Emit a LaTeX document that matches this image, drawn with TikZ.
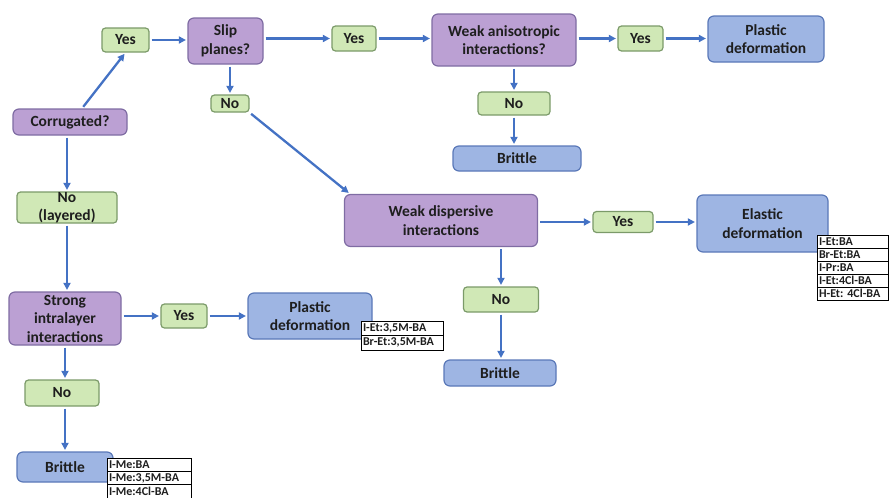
\documentclass[tikz,border=0pt]{standalone}
\usepackage{fontspec}
\setmainfont{Carlito}
\usetikzlibrary{positioning, arrows.meta, calc}

\definecolor{qfill}{HTML}{BBA0D3}
\definecolor{qline}{HTML}{7F6CA3}
\definecolor{afill}{HTML}{D0E8B6}
\definecolor{aline}{HTML}{7B9A69}
\definecolor{rfill}{HTML}{9EB5E3}
\definecolor{rline}{HTML}{5A78B8}
\definecolor{flow}{HTML}{4472C4}
\definecolor{ink}{HTML}{1E1E1E}

\tikzset{
  box/.style={rounded corners=6pt, line width=1.2pt, align=center, inner sep=0pt,
    font=\fontsize{15.5}{18.5}\selectfont\bfseries, text=ink},
  question/.style={box, fill=qfill, draw=qline},
  answer/.style={box, fill=afill, draw=aline, rounded corners=3.5pt},
  result/.style={box, fill=rfill, draw=rline},
  cell/.style={draw=black, fill=white, line width=0.8pt, inner sep=0pt, inner xsep=2pt,
    outer sep=0pt, align=left, font=\fontsize{12}{13}\selectfont\bfseries\frenchspacing, text=ink},
  flowarrow/.style={draw=flow, line width=2.3pt, -{Triangle[length=7pt,width=7pt]},
    shorten <=2pt, shorten >=1.5pt},
}

\begin{document}
\begin{tikzpicture}[x=1pt, y=-1pt]
\useasboundingbox (0,0) rectangle (889,498);

% questions
\node[question, minimum width=114pt, minimum height=26pt] (corr) at (70,122) {Corrugated?};
\node[question, minimum width=75pt, minimum height=46pt] (slip) at (225.5,41) {Slip\\planes?};
\node[question, minimum width=144pt, minimum height=52pt] (aniso) at (504,40) {Weak anisotropic\\interactions?};
\node[question, minimum width=193pt, minimum height=52pt] (disp) at (441,220.5) {Weak dispersive\\interactions};
\node[question, minimum width=112pt, minimum height=53pt] (strong) at (65,318.5) {Strong\\intralayer\\interactions};

% answers
\node[answer, minimum width=47pt, minimum height=24pt] (yesA) at (125.5,40) {Yes};
\node[answer, minimum width=38pt, minimum height=17pt] (noA) at (230,103.5) {No};
\node[answer, minimum width=44pt, minimum height=25pt] (yesB) at (354,38.5) {Yes};
\node[answer, minimum width=45pt, minimum height=25pt] (yesC) at (640.5,38.5) {Yes};
\node[answer, minimum width=72pt, minimum height=23pt] (noB) at (514,103.5) {No};
\node[answer, minimum width=100pt, minimum height=31pt] (layer) at (67,207.5) {No\\(layered)};
\node[answer, minimum width=60pt, minimum height=21pt] (yesD) at (623,222) {Yes};
\node[answer, minimum width=75pt, minimum height=25pt] (noC) at (501,299.5) {No};
\node[answer, minimum width=46pt, minimum height=24pt] (yesE) at (184,316) {Yes};
\node[answer, minimum width=74pt, minimum height=26pt] (noD) at (62,393) {No};

% outcomes
\node[result, minimum width=116pt, minimum height=46pt] (plastA) at (766,39) {Plastic\\deformation};
\node[result, minimum width=128pt, minimum height=25pt] (britA) at (517,158.5) {Brittle};
\node[result, minimum width=131pt, minimum height=57pt] (elast) at (762.5,223.5) {Elastic\\deformation};
\node[result, minimum width=112pt, minimum height=26pt] (britB) at (500,373) {Brittle};
\node[result, minimum width=124pt, minimum height=46pt] (plastB) at (310,316) {Plastic\\deformation};
\node[result, minimum width=96pt, minimum height=30pt] (britC) at (65,467) {Brittle};

% compound lists
\node[cell, anchor=north west, text width=67pt, minimum height=13pt] (elast1) at (817,235) {I-Et:BA};
\node[cell, text width=67pt, minimum height=13pt, below=0pt of elast1] (elast2) {Br-Et:BA};
\node[cell, text width=67pt, minimum height=13pt, below=0pt of elast2] (elast3) {I-Pr:BA};
\node[cell, text width=67pt, minimum height=13pt, below=0pt of elast3] (elast4) {I-Et:4Cl-BA};
\node[cell, text width=67pt, minimum height=13pt, below=0pt of elast4] (elast5) {H-Et: 4Cl-BA};

\node[cell, anchor=north west, text width=78pt, minimum height=14.5pt] (plast1) at (361,321) {I-Et:3,5M-BA};
\node[cell, text width=78pt, minimum height=14.5pt, below=0pt of plast1] (plast2) {Br-Et:3,5M-BA};

\node[cell, anchor=north west, text width=80pt, minimum height=13.3pt] (brit1) at (107,458) {I-Me:BA};
\node[cell, text width=80pt, minimum height=13.3pt, below=0pt of brit1] (brit2) {I-Me:3,5M-BA};
\node[cell, text width=80pt, minimum height=13.3pt, below=0pt of brit2] (brit3) {I-Me:4Cl-BA};

% connectors
\draw[flowarrow] ([xshift=12pt]corr.north) -- (yesA.south);
\draw[flowarrow] (yesA.east) -- (yesA.east -| slip.west);
\draw[flowarrow] (noA.north |- slip.south) -- (noA.north);
\draw[flowarrow] (slip.east |- yesB) -- (yesB.west);
\draw[flowarrow] (yesB.east) -- (yesB.east -| aniso.west);
\draw[flowarrow] (aniso.east |- yesC) -- (yesC.west);
\draw[flowarrow] (yesC.east) -- (yesC.east -| plastA.west);
\draw[flowarrow] (noB.north |- aniso.south) -- (noB.north);
\draw[flowarrow] (noB.south) -- (noB.south |- britA.north);
\draw[flowarrow] (noA.south east) -- ([xshift=6pt]disp.north west);
\draw[flowarrow] (disp.east |- yesD) -- (yesD.west);
\draw[flowarrow] (yesD.east) -- (yesD.east -| elast.west);
\draw[flowarrow] (noC.north |- disp.south) -- (noC.north);
\draw[flowarrow] (noC.south) -- (noC.south |- britB.north);
\draw[flowarrow] (layer.north |- corr.south) -- (layer.north);
\draw[flowarrow] (layer.south) -- (layer.south |- strong.north);
\draw[flowarrow] (strong.east |- yesE) -- (yesE.west);
\draw[flowarrow] (yesE.east) -- (yesE.east -| plastB.west);
\draw[flowarrow] (strong.south) -- (strong.south |- noD.north);
\draw[flowarrow] (britC.north |- noD.south) -- (britC.north);
\end{tikzpicture}
\end{document}
